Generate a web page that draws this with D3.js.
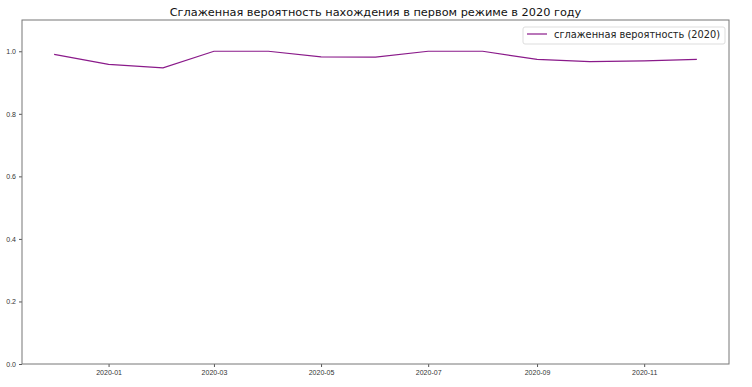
<!DOCTYPE html>
<html>
<head>
<meta charset="utf-8">
<script src="https://cdn.jsdelivr.net/npm/d3@7"></script>
<style>
  body { margin: 0; background: #fff; }
  svg { display: block; font-family: "DejaVu Sans", sans-serif; }
</style>
</head>
<body>
<svg id="chart"></svg>
<script>
// monthly smoothed probability, Dec 2019 .. Dec 2020
var months = ["2019-12-01", "2020-01-01", "2020-02-01", "2020-03-01", "2020-04-01", "2020-05-01",
    "2020-06-01", "2020-07-01", "2020-08-01", "2020-09-01", "2020-10-01", "2020-11-01", "2020-12-01"];
var probs = [0.990, 0.958, 0.947, 1.0, 1.0, 0.982, 0.981, 1.0, 1.0, 0.974, 0.967, 0.969, 0.974];
var yTicks = [0.0, 0.2, 0.4, 0.6, 0.8, 1.0];
var xTickLabels = ["2020-01", "2020-03", "2020-05", "2020-07", "2020-09", "2020-11"];
var titleText = "Сглаженная вероятность нахождения в первом режиме в 2020 году";
var legendText = "сглаженная вероятность (2020)";

var W = 752, H = 387;
var margin = {top: 20, right: 23, bottom: 23, left: 22};
var parse = d3.timeParse("%Y-%m-%d");
var data = months.map(function(m, i) { return {date: parse(m), p: probs[i]}; });

var svg = d3.select('#chart')
    .attr('width', W)
    .attr('height', H);

// matplotlib style 5% margins on x
var ext = d3.extent(data, function(d) { return d.date; });
var span = ext[1] - ext[0];
var xScale = d3.scaleTime()
    .domain([new Date(+ext[0] - span * 0.05), new Date(+ext[1] + span * 0.05)])
    .range([margin.left, W - margin.right]);

var yScale = d3.scaleLinear()
    .domain([0, 1.1])
    .range([H - margin.bottom, margin.top]);

var xAxis = d3.axisBottom(xScale)
    .tickValues(xTickLabels.map(function(t) { return d3.timeParse("%Y-%m")(t); }))
    .tickFormat(d3.timeFormat("%Y-%m"))
    .tickSize(3)
    .tickPadding(3);

var yAxis = d3.axisLeft(yScale)
    .tickValues(yTicks)
    .tickFormat(d3.format(".1f"))
    .tickSize(3)
    .tickPadding(3);

var gx = svg.append("g")
    .attr("transform", "translate(0," + (H - margin.bottom) + ")")
    .call(xAxis);
var gy = svg.append("g")
    .attr("transform", "translate(" + margin.left + ",0)")
    .call(yAxis);

[gx, gy].forEach(function(g) {
    g.select(".domain").remove();
    g.selectAll(".tick line").attr("stroke", "#555");
    g.selectAll(".tick text").attr("fill", "#333").style("font-size", "7px");
});

// frame (all four spines)
svg.append("rect")
    .attr("x", margin.left)
    .attr("y", margin.top)
    .attr("width", W - margin.left - margin.right)
    .attr("height", H - margin.top - margin.bottom)
    .attr("fill", "none")
    .attr("stroke", "#777")
    .attr("stroke-width", 1);

var line = d3.line()
    .x(function(d) { return xScale(d.date); })
    .y(function(d) { return yScale(d.p); });

svg.append("path")
    .datum(data)
    .attr("d", line)
    .attr("fill", "none")
    .attr("stroke", "#8a1a8a")
    .attr("stroke-width", 1.2);

svg.append("text")
    .attr("x", (margin.left + W - margin.right) / 2)
    .attr("y", 16)
    .attr("text-anchor", "middle")
    .style("font-size", "11.3px")
    .attr("fill", "#111")
    .text(titleText);

// legend
var lg = svg.append("g");
lg.append("rect")
    .attr("x", 523).attr("y", 27)
    .attr("width", 202).attr("height", 17)
    .attr("rx", 2)
    .attr("fill", "#fff")
    .attr("stroke", "#ddd");
lg.append("line")
    .attr("x1", 527).attr("x2", 547)
    .attr("y1", 34).attr("y2", 34)
    .attr("stroke", "#8a1a8a")
    .attr("stroke-width", 1.2);
lg.append("text")
    .attr("x", 554).attr("y", 38)
    .style("font-size", "9.8px")
    .attr("fill", "#222")
    .text(legendText);
</script>
</body>
</html>
